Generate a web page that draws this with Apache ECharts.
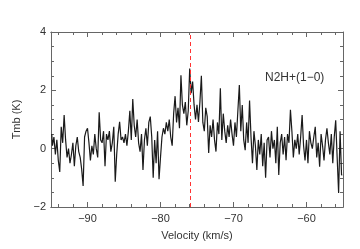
<!DOCTYPE html>
<html><head><meta charset="utf-8">
<script src="https://cdn.jsdelivr.net/npm/echarts@6/dist/echarts.min.js"></script>
<style>html,body{margin:0;padding:0;background:#fff}#c{width:360px;height:249px}</style>
</head><body><div id="c"></div>
<script>
// channel velocities: start and width (km/s)
const vStart = -95.0;
const dv = 0.2;
// Tmb (K) per channel
const tmb = [
 0.5, 0.1, 0.4, -0.2, 0.3, -0.4, -0.8, 0.75, 0.2, 1.15,
 0.3, -0.3, 0.0, -0.5, -0.2, 0.2, -0.6, 0.1, 0.4, -0.1,
 -0.3, -0.7, -1.28, 0.4, 0.6, 0.7, 0.2, -0.4, 0.1, -0.2,
 0.5, 0.0, -0.3, 1.25, 0.3, 0.2, 0.6, -0.6, 0.5, 0.3,
 0.6, -0.1, 0.2, 0.75, -1.13, -0.2, 0.5, 0.92, 0.3, 0.4,
 0.2, 0.5, 0.1, 0.6, 1.3, 0.3, 1.7, 0.8, 0.4, 1.0,
 0.2, -0.1, 0.5, -0.73, 0.3, 0.7, 0.1, 0.9, 1.1, 0.4,
 -1.0, 0.3, -0.5, 0.6, -1.05, -0.3, 0.4, 0.7, 0.5, 0.9,
 0.6, 1.0, 0.4, 0.1, 1.2, 1.8, 0.9, 1.4, 0.7, 2.52,
 1.5, 1.2, 1.6, 0.8, 1.3, 2.75, 1.9, 2.3, 1.5, 1.0,
 1.5, 0.92, 1.6, 2.5, 0.9, 0.6, 1.4, 1.1, -0.15, 0.8,
 0.4, 1.0, 0.3, -0.1, 0.9, 0.5, 2.07, 0.3, 1.2, 0.6,
 0.2, 0.8, 0.4, 1.0, 0.5, 0.1, 0.9, 0.4, 1.3, 2.18,
 0.6, 1.5, 0.3, -0.05, 0.9, 0.2, 1.65, 0.4, -0.5, 0.6,
 0.1, -0.73, 0.3, -0.2, 0.5, -0.6, 0.2, -1.0, 0.3, 0.4,
 -0.3, 0.6, 0.0, 0.3, -0.5, 0.75, -0.9, 0.2, 0.5, -0.2,
 0.4, -0.4, 0.5, 0.2, 1.33, 0.6, -0.3, 0.3, 0.0, 0.5,
 -0.2, 0.4, 1.15, 0.1, -0.4, 0.3, -0.5, 0.6, 0.2, 0.0,
 0.4, 0.75, -0.3, 0.2, -0.62, 0.5, 0.1, -0.4, 0.3, 0.7,
 0.2, -0.2, 0.5, -0.5, 0.4, 0.97, -0.3, -1.52, 0.6, -0.9
];
const xMajor = [-90, -80, -70, -60];
const xMinor = [-94,-92,-88,-86,-84,-82,-78,-76,-74,-72,-68,-66,-64,-62,-58,-56];
const refVelocity = -75.9;
const lineLabel = 'N2H+(1\u22120)';

const data = tmb.map((t, i) => [vStart + (i + 0.5) * dv, t]);
const fmt = v => String(v).replace('-', '\u2212');
const axCol = '#666';
const font = 'Liberation Sans, Arial, sans-serif';
const xBase = {type: 'value', min: -95, max: -55, splitLine: {show: false},
  axisLine: {show: true, onZero: false, lineStyle: {color: axCol, width: 1}}};
const chart = echarts.init(document.getElementById('c'));
chart.setOption({
  animation: false,
  backgroundColor: '#fff',
  grid: {left: 51, right: 17, top: 32, bottom: 42},
  title: {text: lineLabel, left: 260, top: 67,
    textStyle: {fontFamily: font, fontSize: 12, fontWeight: 'normal', color: '#333'}},
  xAxis: [
    Object.assign({}, xBase, {position: 'bottom',
      axisTick: {show: true, inside: true, length: 5, customValues: xMajor, lineStyle: {color: axCol}},
      axisLabel: {show: true, customValues: xMajor, formatter: fmt, color: '#333', fontFamily: font, fontSize: 11, margin: 6},
      name: 'Velocity (km/s)', nameLocation: 'middle', nameGap: 23,
      nameTextStyle: {fontFamily: font, fontSize: 11, color: '#333'}}),
    Object.assign({}, xBase, {position: 'bottom',
      axisTick: {show: true, inside: true, length: 3, customValues: xMinor, lineStyle: {color: axCol}},
      axisLabel: {show: false}}),
    Object.assign({}, xBase, {position: 'top',
      axisTick: {show: true, inside: true, length: 5, customValues: xMajor, lineStyle: {color: axCol}},
      axisLabel: {show: false}}),
    Object.assign({}, xBase, {position: 'top',
      axisTick: {show: true, inside: true, length: 3, customValues: xMinor, lineStyle: {color: axCol}},
      axisLabel: {show: false}})
  ],
  yAxis: [
    {type: 'value', min: -2, max: 4, interval: 2, position: 'left',
      splitLine: {show: false},
      axisLine: {show: true, onZero: false, lineStyle: {color: axCol}},
      axisTick: {show: true, inside: true, length: 5, lineStyle: {color: axCol}},
      minorTick: {show: true, splitNumber: 4, length: 3, lineStyle: {color: axCol}},
      axisLabel: {formatter: fmt, color: '#333', fontFamily: font, fontSize: 11, margin: 5},
      name: 'Tmb (K)', nameLocation: 'middle', nameGap: 24, nameRotate: 90,
      nameTextStyle: {fontFamily: font, fontSize: 11, color: '#333'}},
    {type: 'value', min: -2, max: 4, interval: 2, position: 'right',
      splitLine: {show: false},
      axisLine: {show: true, onZero: false, lineStyle: {color: axCol}},
      axisTick: {show: true, inside: true, length: 5, lineStyle: {color: axCol}},
      minorTick: {show: true, splitNumber: 4, length: 3, lineStyle: {color: axCol}},
      axisLabel: {show: false}}
  ],
  series: [{
    type: 'line', step: 'middle', data: data, showSymbol: false, symbol: 'none',
    lineStyle: {color: '#1a1a1a', width: 1.2}, itemStyle: {color: '#1a1a1a'},
    markLine: {silent: true, symbol: 'none', label: {show: false},
      lineStyle: {color: '#ff3333', type: [4, 3], width: 1},
      data: [{xAxis: refVelocity}]}
  }]
});
</script></body></html>
